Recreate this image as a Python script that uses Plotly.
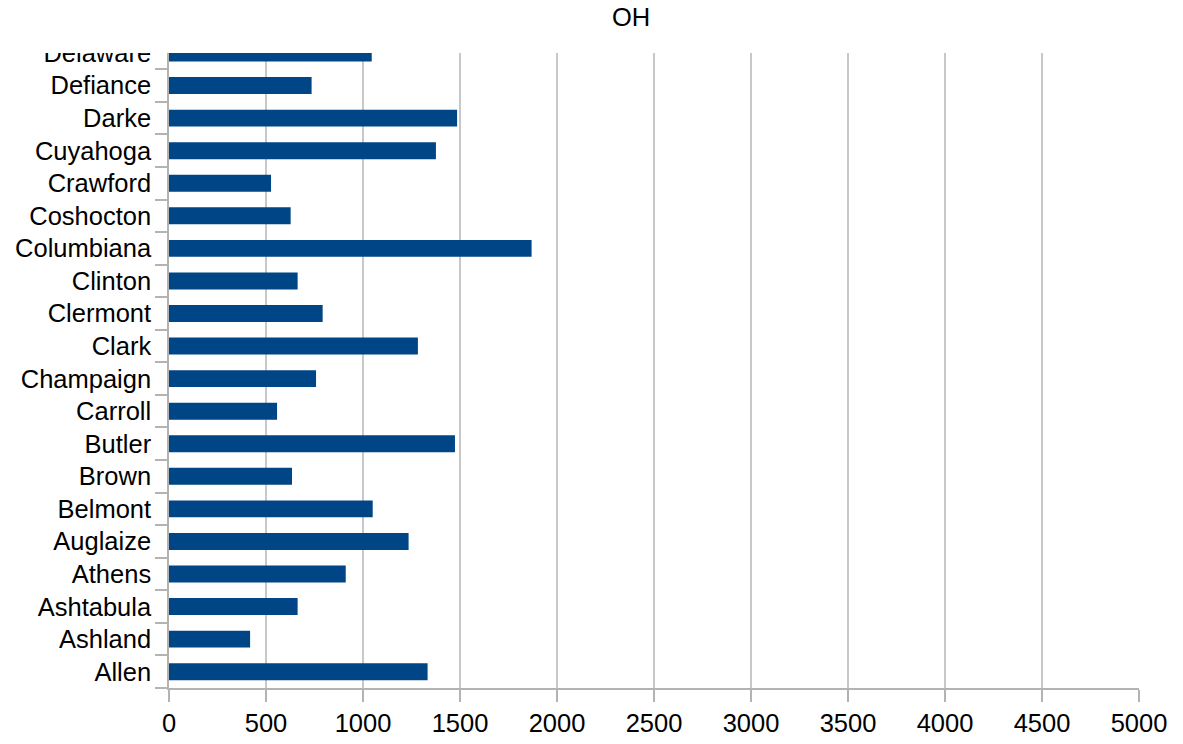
import plotly.graph_objects as go

counties = ["Allen", "Ashland", "Ashtabula", "Athens", "Auglaize", "Belmont", "Brown",
            "Butler", "Carroll", "Champaign", "Clark", "Clermont", "Clinton", "Columbiana",
            "Coshocton", "Crawford", "Cuyahoga", "Darke", "Defiance", "Delaware"]
values = [1333, 418, 663, 911, 1235, 1050, 634,
          1474, 557, 758, 1283, 792, 663, 1869,
          627, 526, 1376, 1485, 735, 1045]
x_ticks = [0, 500, 1000, 1500, 2000, 2500, 3000, 3500, 4000, 4500, 5000]

W, H = 1183, 744
L, T = 169, 53
R = W - 1139
B = H - 688

fig = go.Figure(go.Bar(
    y=counties, x=values, orientation="h",
    marker=dict(color="#004586", line=dict(width=0)),
))

fnt = dict(family="Liberation Sans, Arial, sans-serif", size=25.5, color="#000000")

fig.update_layout(
    width=W, height=H,
    margin=dict(l=L, r=R, t=T, b=B, pad=0, autoexpand=False),
    paper_bgcolor="white", plot_bgcolor="white",
    bargap=0.48,
    showlegend=False,
    font=fnt,
    title=dict(text="OH", x=631 / W, xanchor="center", xref="container",
               y=1 - 17 / H, yanchor="middle", yref="container", automargin=False,
               font=fnt),
    xaxis=dict(range=[0, 5000], tickvals=x_ticks, ticktext=[str(v) for v in x_ticks],
               showgrid=True, gridcolor="#c8c8c8", gridwidth=1.5,
               showline=True, linecolor="#b3b3b3", linewidth=1.5,
               ticks="outside", ticklen=12, tickcolor="#b3b3b3", tickwidth=1.5,
               zeroline=False, tickfont=fnt, automargin=False),
    yaxis=dict(type="category", categoryorder="array", categoryarray=counties,
               range=[-0.5, 19.0], tickson="boundaries",
               showgrid=False, showline=True, linecolor="#b3b3b3", linewidth=1.5,
               ticks="outside", ticklen=12, tickcolor="#b3b3b3", tickwidth=1.5,
               zeroline=False, tickfont=fnt, ticklabelstandoff=11, automargin=False),
    shapes=[dict(type="rect", xref="paper", yref="paper", layer="above",
                 x0=-L / (W - L - R), x1=-0.001, y0=1.0, y1=1.0 + 30 / (H - T - B),
                 fillcolor="white", line=dict(width=0))],
)

fig.write_html("out.html", config={"displayModeBar": False},
               post_script="document.body.style.margin='0px';")
